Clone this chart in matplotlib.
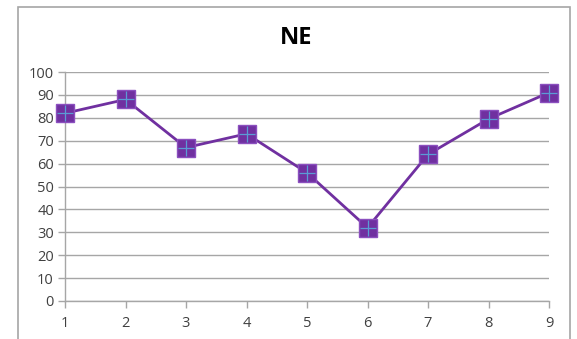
import matplotlib
matplotlib.use("Agg")
import matplotlib.pyplot as plt
from matplotlib.patches import Rectangle

# Series data
x_positions = [1, 2, 3, 4, 5, 6, 7, 8, 9]
ne_values = [82, 88, 67, 73, 56, 32, 64, 79.5, 91]
y_ticks = [0, 10, 20, 30, 40, 50, 60, 70, 80, 90, 100]
chart_title = "NE"

plt.rcParams['font.family'] = ['Open Sans', 'DejaVu Sans']

fig = plt.figure(figsize=(5.77, 3.39), dpi=100)
fig.patch.set_facecolor('white')

# Chart area border
fig.patches.append(Rectangle((18 / 577, -0.02), (570 - 18) / 577, 1 - 7 / 339 + 0.02,
                             transform=fig.transFigure, fill=False,
                             edgecolor='#A6A6A6', linewidth=1.2, zorder=0))

ax = fig.add_axes([65 / 577, 1 - 301 / 339, (549 - 65) / 577, (301 - 72) / 339])

purple = '#7030A0'
ax.plot(x_positions, ne_values, color=purple, linewidth=2, zorder=3,
        marker='s', markersize=12.5, markerfacecolor=purple,
        markeredgecolor='#8B4FBF', markeredgewidth=1, clip_on=False)
ax.plot(x_positions, ne_values, linestyle='none', marker='+', markersize=12,
        markeredgecolor='#5B9BD5', markeredgewidth=0.9, zorder=4, clip_on=False)

ax.set_xlim(1, 9)
ax.set_ylim(0, 100)
ax.set_yticks(y_ticks)
ax.set_xticks(x_positions)
ax.yaxis.grid(True, color='#A6A6A6', linewidth=1)
ax.set_axisbelow(True)

for side in ['top', 'right']:
    ax.spines[side].set_visible(False)
for side in ['left', 'bottom']:
    ax.spines[side].set_color('#A6A6A6')
    ax.spines[side].set_linewidth(1)

ax.tick_params(axis='both', colors='#A6A6A6', labelcolor='#404040',
               labelsize=10.5, length=5, width=1)
ax.tick_params(axis='x', pad=6)
ax.tick_params(axis='y', pad=3)

fig.text(296 / 577, 1 - 38 / 339, chart_title, ha='center', va='center',
         fontsize=17, fontweight='bold', color='black')

fig.savefig('out.png', dpi=100)
